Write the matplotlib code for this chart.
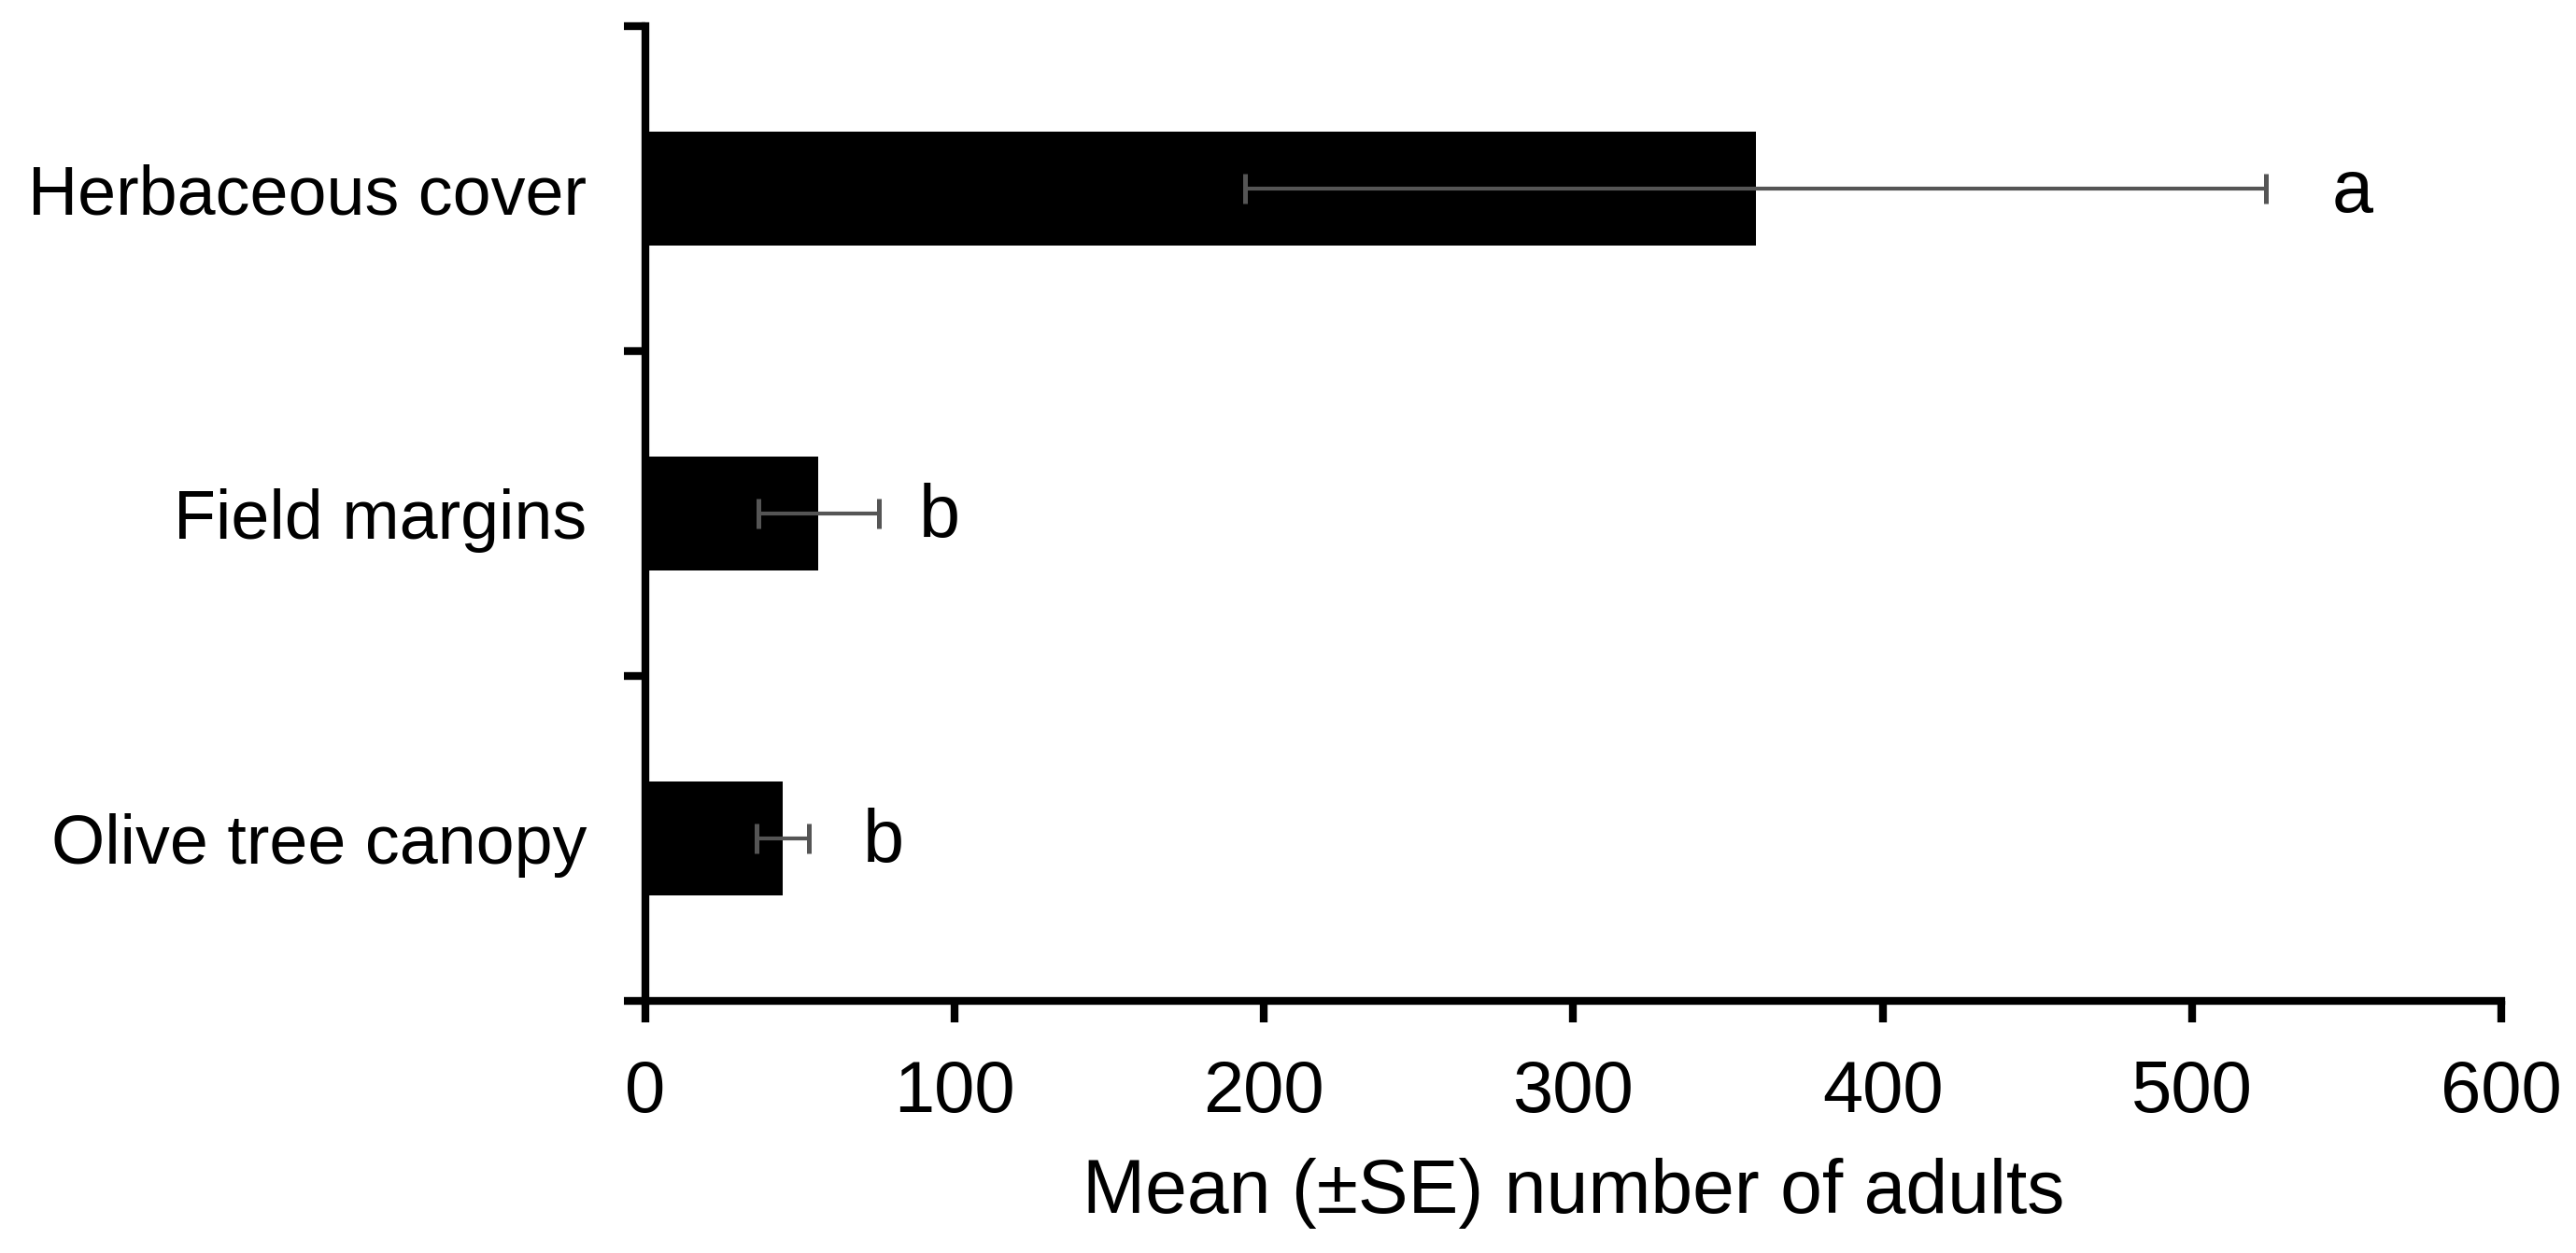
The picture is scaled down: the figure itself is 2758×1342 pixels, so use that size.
import matplotlib
matplotlib.use("Agg")
import matplotlib.pyplot as plt

# ---- data ----
categories = ["Herbaceous cover", "Field margins", "Olive tree canopy"]
means = [359, 56, 44.4]
se = [165, 19.5, 8.5]
letters = ["a", "b", "b"]
letter_x = [552, 95, 77]
xticks = [0, 100, 200, 300, 400, 500, 600]
xlabel = "Mean (\u00b1SE) number of adults"

plt.rcParams['font.family'] = ['Liberation Sans', 'DejaVu Sans']
FS_CAT = 26.5
FS_TICK = 28
FS_LAB = 29
FS_LET = 28.5

fig = plt.figure(figsize=(2758 / 200, 1342 / 200), dpi=200)
ax = fig.add_axes([0.2505, 0.2012, 0.9710 - 0.2505, 0.9791 - 0.2012])

ypos = [2, 1, 0]
ax.barh(ypos, means, height=0.35, color='black', zorder=2)
ax.errorbar(means, ypos, xerr=se, fmt='none', ecolor='#555555',
            elinewidth=1.5, capsize=5.7, capthick=1.8, zorder=3)

for lx, yy, t in zip(letter_x, ypos, letters):
    ax.annotate(t, xy=(lx, yy), xytext=(0, -9.0), textcoords='offset points',
                ha='center', va='baseline', fontsize=FS_LET)

ax.set_xlim(0, 600)
ax.set_ylim(-0.5, 2.5)
ax.set_xticks(xticks)
ax.set_xticklabels([str(v) for v in xticks])

ax.set_yticks([-0.5, 0.5, 1.5, 2.5])
ax.set_yticklabels([])
ax.set_yticks(ypos, minor=True)
ax.set_yticklabels(categories, minor=True)

for s in ['top', 'right']:
    ax.spines[s].set_visible(False)
for s in ['left', 'bottom']:
    ax.spines[s].set_linewidth(3)
    ax.spines[s].set_color('black')
    ax.spines[s].set_capstyle('projecting')

ax.tick_params(axis='x', which='major', direction='out', length=8.3, width=3,
               labelsize=FS_TICK, pad=14)
ax.tick_params(axis='y', which='major', direction='out', length=8.3, width=3)
ax.tick_params(axis='y', which='minor', length=0, labelsize=FS_CAT, pad=22.5)

ax.set_xlabel(xlabel, fontsize=FS_LAB, labelpad=12)

fig.savefig("out.png", dpi=200)
